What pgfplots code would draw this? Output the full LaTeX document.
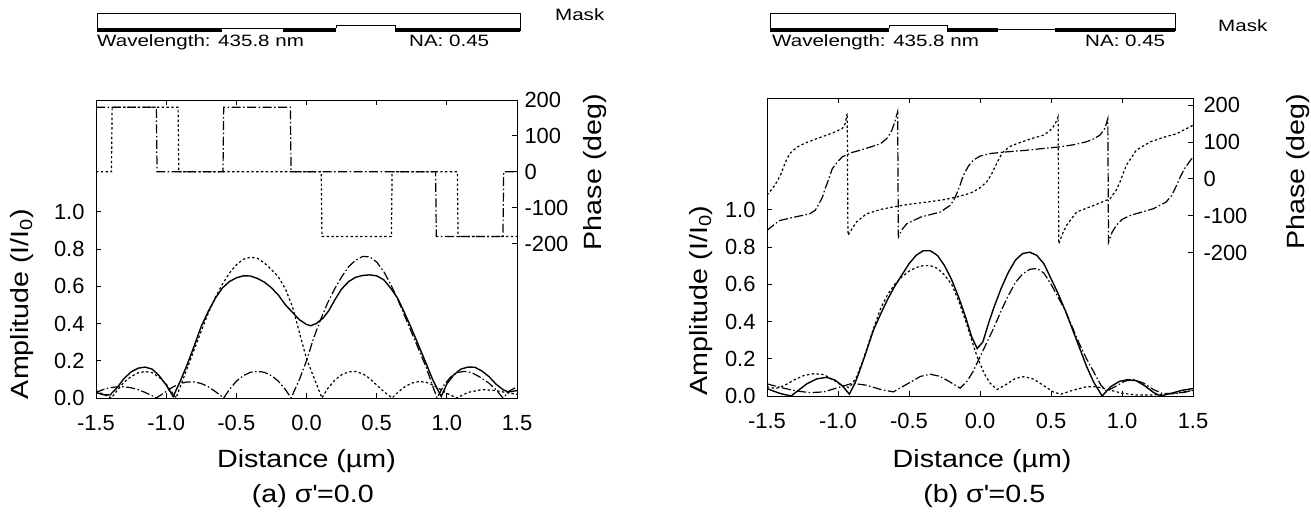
\documentclass[border=0pt]{standalone}
\usepackage{pgfplots}
\pgfplotsset{compat=1.18}
\usepackage{fontspec}
\setmainfont{Liberation Sans}
\newfontfamily\widefont{Liberation Sans}[FakeStretch=1.15]
\newfontfamily\headfont{Liberation Sans}[FakeStretch=1.25]
\newcommand\labfont{\widefont\fontsize{25}{28}\selectfont}

\tikzset{
  solidc/.style={line width=1.4bp},
  dotc/.style={line width=1.2bp, dash pattern=on 2.4bp off 2.4bp},
  dashdotc/.style={line width=1.2bp, dash pattern=on 9bp off 2.5bp on 1.5bp off 2.5bp},
}
\pgfplotsset{
  common/.style={scale only axis, height=298bp, xmin=-1.5, xmax=1.5,
    tick align=inside, major tick length=5bp,
    axis line style={line width=0.9bp}, tick style={line width=0.9bp, black},
    /pgf/number format/assume math mode=true,
    ticklabel style={font=\fontsize{22}{24}\selectfont},
  },
  ampax/.style={common, ymin=0, ymax=1.6, clip mode=individual,
    xtick={-1.5,-1.0,...,1.5}, ytick={0,0.2,...,1.0}, xtick pos=both, ytick pos=left,
    xticklabel style={/pgf/number format/fixed, /pgf/number format/fixed zerofill, /pgf/number format/precision=1, yshift=-14bp},
    yticklabel style={/pgf/number format/fixed, /pgf/number format/fixed zerofill, /pgf/number format/precision=1, xshift=-8bp},
    xlabel={Distance (µm)}, ylabel={Amplitude (I/I\textsubscript{0})},
  },
  phax/.style={common, axis y line*=right, axis x line=none,
    ytick={-200,-100,0,100,200}, ylabel={Phase (deg)},
  },
  maskax/.style={scale only axis, height=19bp, xmin=-1.5, xmax=1.5, ymin=0, ymax=1, hide axis, clip=false},
}

\begin{document}
\begin{tikzpicture}
\useasboundingbox (0bp,0bp) rectangle (1311bp,515bp);

% ---------- (a) sigma = 0.0 ----------
\begin{axis}[maskax, at={(96bp,483bp)}, anchor=south west, width=421bp]
  \addplot[line width=0.8bp] coordinates {(-1.493,0.05) (-1.493,1) (1.521,1) (1.521,0.05)};
  \addplot[fill=black, draw=none] coordinates {(-1.493,0) (-0.602,0) (-0.602,0.21) (-1.493,0.21)};
  \addplot[fill=black, draw=none] coordinates {(-0.167,0) (0.210,0) (0.210,0.21) (-0.167,0.21)};
  \addplot[fill=black, draw=none] coordinates {(0.631,0) (1.521,0) (1.521,0.21) (0.631,0.21)};
  \addplot[line width=0.7bp] coordinates {(-0.602,0.21) (-0.167,0.21)};
  \addplot[line width=0.7bp] coordinates {(0.210,0.21) (0.210,0.37) (0.631,0.37) (0.631,0.21)};
\end{axis}

\begin{axis}[ampax, at={(96bp,117bp)}, anchor=south west, width=421bp,
  every axis y label/.style={at={(axis description cs:-0.176,0.315)}, rotate=90, anchor=center, font=\labfont},
  every axis x label/.style={at={(axis description cs:0.5,-0.211)}, anchor=center, font=\labfont}]
  % total amplitude
  \addplot[solidc] coordinates {
    (-1.50,0.030) (-1.45,0.018) (-1.40,0.016) (-1.35,0.055) (-1.30,0.105) (-1.25,0.140)
    (-1.20,0.160) (-1.15,0.166) (-1.10,0.155) (-1.05,0.120) (-1.00,0.070) (-0.95,0.008)
    (-0.90,0.090) (-0.85,0.180) (-0.80,0.280) (-0.75,0.385) (-0.70,0.465) (-0.65,0.535)
    (-0.60,0.590) (-0.55,0.625) (-0.50,0.645) (-0.45,0.656) (-0.40,0.655) (-0.35,0.642)
    (-0.30,0.622) (-0.25,0.592) (-0.20,0.552) (-0.15,0.500) (-0.10,0.460) (-0.05,0.420)
    (0.00,0.395) (0.03,0.388) (0.07,0.400) (0.12,0.430) (0.16,0.470) (0.20,0.525)
    (0.25,0.585) (0.30,0.625) (0.35,0.648) (0.40,0.658) (0.45,0.661) (0.50,0.656)
    (0.55,0.635) (0.60,0.590) (0.65,0.535) (0.70,0.455) (0.75,0.370) (0.80,0.280)
    (0.85,0.190) (0.90,0.097) (0.96,0.008) (1.00,0.075) (1.05,0.125) (1.10,0.155)
    (1.15,0.166) (1.20,0.165) (1.25,0.145) (1.30,0.115) (1.35,0.075) (1.40,0.045)
    (1.44,0.032) (1.50,0.040)};
  % left aperture
  \addplot[dotc] coordinates {
    (-1.50,0.040) (-1.45,0.020) (-1.39,0.000) (-1.35,0.040) (-1.30,0.085) (-1.25,0.115)
    (-1.20,0.135) (-1.15,0.142) (-1.10,0.136) (-1.05,0.112) (-1.00,0.075) (-0.93,0.000)
    (-0.90,0.060) (-0.85,0.160) (-0.80,0.260) (-0.75,0.360) (-0.70,0.455) (-0.65,0.540)
    (-0.60,0.610) (-0.55,0.670) (-0.50,0.715) (-0.45,0.745) (-0.40,0.756) (-0.35,0.750)
    (-0.30,0.725) (-0.25,0.690) (-0.20,0.650) (-0.15,0.585) (-0.10,0.490) (-0.05,0.350)
    (0.00,0.210) (0.05,0.115) (0.11,0.000) (0.15,0.050) (0.20,0.095) (0.25,0.125)
    (0.30,0.140) (0.35,0.142) (0.40,0.130) (0.45,0.105) (0.50,0.070) (0.55,0.035)
    (0.61,0.000) (0.65,0.030) (0.70,0.060) (0.75,0.080) (0.80,0.088) (0.85,0.085)
    (0.90,0.070) (0.95,0.048) (1.00,0.025) (1.07,0.000) (1.15,0.030) (1.25,0.045)
    (1.35,0.040) (1.45,0.025) (1.50,0.020)};
  % right aperture
  \addplot[dashdotc] coordinates {
    (-1.50,0.030) (-1.45,0.045) (-1.40,0.055) (-1.35,0.060) (-1.30,0.060) (-1.25,0.055)
    (-1.20,0.045) (-1.15,0.030) (-1.10,0.012) (-1.07,0.000) (-1.00,0.035) (-0.95,0.060)
    (-0.90,0.078) (-0.85,0.086) (-0.80,0.086) (-0.75,0.078) (-0.70,0.060) (-0.65,0.035)
    (-0.59,0.000) (-0.55,0.045) (-0.50,0.090) (-0.45,0.120) (-0.40,0.138) (-0.35,0.143)
    (-0.30,0.138) (-0.25,0.120) (-0.20,0.090) (-0.15,0.045) (-0.11,0.000) (-0.05,0.100)
    (0.00,0.200) (0.05,0.320) (0.10,0.420) (0.15,0.510) (0.20,0.585) (0.25,0.650)
    (0.30,0.705) (0.35,0.740) (0.40,0.760) (0.45,0.758) (0.50,0.730) (0.55,0.680)
    (0.60,0.610) (0.65,0.530) (0.70,0.440) (0.75,0.350) (0.80,0.260) (0.85,0.170)
    (0.93,0.000) (0.98,0.070) (1.03,0.115) (1.08,0.138) (1.13,0.143) (1.18,0.135)
    (1.23,0.115) (1.30,0.080) (1.35,0.045) (1.40,0.000) (1.45,0.040) (1.50,0.060)};
  \node[font=\labfont] at (axis description cs:0.515,-0.33) {(a) σ\textquotesingle=0.0};
\end{axis}

\begin{axis}[phax, at={(96bp,117bp)}, anchor=south west, width=421bp, ymin=-630, ymax=200,
  yticklabel style={xshift=4bp},
  every axis y label/.style={at={(axis description cs:1.185,0.758)}, rotate=90, anchor=center, font=\labfont}]
  \addplot[dotc] coordinates {
    (-1.50,0) (-1.39,0) (-1.385,180) (-0.915,180) (-0.91,0) (0.105,0) (0.11,-180)
    (0.605,-180) (0.61,0) (1.075,0) (1.08,-180) (1.50,-180)};
  \addplot[dashdotc] coordinates {
    (-1.50,180) (-1.07,180) (-1.065,0) (-0.595,0) (-0.59,180) (-0.115,180) (-0.11,0)
    (0.92,0) (0.925,-180) (1.40,-180) (1.405,0) (1.50,0)};
\end{axis}

% ---------- (b) sigma = 0.5 ----------
\begin{axis}[maskax, at={(767bp,483bp)}, anchor=south west, width=426bp]
  \addplot[line width=0.8bp] coordinates {(-1.479,0.05) (-1.479,1) (1.373,1) (1.373,0.05)};
  \addplot[fill=black, draw=none] coordinates {(-1.479,0) (-0.641,0) (-0.641,0.23) (-1.479,0.23)};
  \addplot[fill=black, draw=none] coordinates {(-0.232,0) (0.127,0) (0.127,0.23) (-0.232,0.23)};
  \addplot[fill=black, draw=none] coordinates {(0.528,0) (1.373,0) (1.373,0.23) (0.528,0.23)};
  \addplot[line width=0.7bp] coordinates {(-0.641,0.23) (-0.641,0.37) (-0.232,0.37) (-0.232,0.23)};
  \addplot[line width=0.7bp] coordinates {(0.127,0.16) (0.528,0.16)};
\end{axis}

\begin{axis}[ampax, at={(767bp,119bp)}, anchor=south west, width=426bp,
  every axis y label/.style={at={(axis description cs:-0.155,0.32)}, rotate=90, anchor=center, font=\labfont},
  every axis x label/.style={at={(axis description cs:0.505,-0.218)}, anchor=center, font=\labfont}]
  \addplot[solidc] coordinates {
    (-1.50,0.040) (-1.45,0.025) (-1.40,0.012) (-1.33,0.000) (-1.28,0.030) (-1.22,0.065)
    (-1.15,0.092) (-1.08,0.100) (-1.02,0.085) (-0.97,0.055) (-0.92,0.010) (-0.88,0.070)
    (-0.85,0.130) (-0.80,0.240) (-0.75,0.355) (-0.70,0.440) (-0.65,0.520) (-0.60,0.590)
    (-0.55,0.650) (-0.50,0.710) (-0.45,0.755) (-0.40,0.780) (-0.35,0.780) (-0.30,0.755)
    (-0.25,0.700) (-0.20,0.625) (-0.15,0.530) (-0.10,0.420) (-0.06,0.320) (-0.02,0.255)
    (0.02,0.290) (0.06,0.390) (0.10,0.480) (0.15,0.580) (0.20,0.665) (0.25,0.730)
    (0.30,0.765) (0.35,0.772) (0.40,0.755) (0.45,0.710) (0.50,0.630) (0.55,0.550)
    (0.60,0.460) (0.65,0.360) (0.70,0.260) (0.75,0.160) (0.80,0.075) (0.86,0.000)
    (0.92,0.050) (0.98,0.078) (1.04,0.088) (1.10,0.082) (1.16,0.055) (1.22,0.020)
    (1.27,0.000) (1.35,0.015) (1.42,0.030) (1.50,0.040)};
  \addplot[dotc] coordinates {
    (-1.50,0.050) (-1.44,0.040) (-1.38,0.055) (-1.31,0.086) (-1.24,0.110) (-1.17,0.120)
    (-1.10,0.115) (-1.03,0.085) (-0.97,0.055) (-0.92,0.045) (-0.87,0.100) (-0.82,0.200)
    (-0.76,0.340) (-0.70,0.470) (-0.65,0.545) (-0.60,0.600) (-0.55,0.640) (-0.50,0.670)
    (-0.45,0.690) (-0.40,0.700) (-0.35,0.700) (-0.30,0.685) (-0.25,0.650) (-0.20,0.600)
    (-0.15,0.510) (-0.10,0.400) (-0.05,0.280) (-0.02,0.210) (0.03,0.120) (0.07,0.070)
    (0.12,0.035) (0.18,0.060) (0.25,0.095) (0.31,0.104) (0.38,0.090) (0.45,0.055)
    (0.52,0.020) (0.57,0.010) (0.65,0.030) (0.75,0.050) (0.82,0.050) (0.90,0.035)
    (1.00,0.015) (1.10,0.005) (1.20,0.005) (1.30,0.010) (1.40,0.018) (1.50,0.030)};
  \addplot[dashdotc] coordinates {
    (-1.50,0.065) (-1.40,0.045) (-1.30,0.028) (-1.20,0.018) (-1.10,0.022) (-1.00,0.045)
    (-0.90,0.068) (-0.80,0.058) (-0.70,0.035) (-0.61,0.022) (-0.50,0.070) (-0.42,0.105)
    (-0.35,0.117) (-0.28,0.105) (-0.20,0.070) (-0.14,0.042) (-0.09,0.080) (-0.05,0.130)
    (0.00,0.210) (0.05,0.290) (0.10,0.370) (0.15,0.460) (0.20,0.540) (0.25,0.610)
    (0.30,0.655) (0.35,0.680) (0.40,0.685) (0.45,0.660) (0.50,0.600) (0.55,0.530)
    (0.60,0.460) (0.65,0.370) (0.70,0.280) (0.75,0.200) (0.80,0.130) (0.85,0.060)
    (0.89,0.025) (0.95,0.050) (1.02,0.080) (1.08,0.088) (1.15,0.070) (1.22,0.035)
    (1.28,0.015) (1.36,0.012) (1.44,0.020) (1.50,0.030)};
  \node[font=\labfont] at (axis description cs:0.51,-0.336) {(b) σ\textquotesingle=0.5};
\end{axis}

\begin{axis}[phax, at={(767bp,119bp)}, anchor=south west, width=426bp, ymin=-590, ymax=220,
  yticklabel style={xshift=7bp},
  every axis y label/.style={at={(axis description cs:1.246,0.752)}, rotate=90, anchor=center, font=\labfont}]
  \addplot[dotc] coordinates {
    (-1.50,-44) (-1.46,-25) (-1.43,-8) (-1.40,15) (-1.37,46) (-1.34,69) (-1.29,86)
    (-1.24,96) (-1.16,108) (-1.08,119) (-1.02,128) (-0.97,137) (-0.95,150) (-0.935,178)
    (-0.93,-153) (-0.90,-135) (-0.87,-117) (-0.80,-95) (-0.70,-83) (-0.61,-76) (-0.50,-69)
    (-0.375,-63) (-0.25,-56) (-0.164,-49) (-0.08,-40) (-0.047,-35) (0.00,-24) (0.047,-8)
    (0.08,12) (0.106,33) (0.135,56) (0.164,74) (0.21,88) (0.26,96) (0.35,108) (0.446,119)
    (0.49,130) (0.516,142) (0.54,158) (0.55,169) (0.555,-176) (0.58,-150) (0.61,-126)
    (0.68,-90) (0.80,-72) (0.915,-54) (0.96,-30) (0.986,-8) (1.03,37) (1.10,78) (1.20,101)
    (1.30,114) (1.385,123) (1.50,146)};
  \addplot[dashdotc] coordinates {
    (-1.50,-140) (-1.45,-124) (-1.41,-113) (-1.31,-104) (-1.20,-95) (-1.16,-85) (-1.14,-72)
    (-1.11,-50) (-1.09,-26) (-1.065,0) (-1.04,28) (-1.00,48) (-0.97,60) (-0.90,72)
    (-0.845,78) (-0.77,87) (-0.70,96) (-0.65,112) (-0.62,133) (-0.60,155) (-0.58,183)
    (-0.575,-158) (-0.55,-138) (-0.516,-122) (-0.42,-104) (-0.28,-90) (-0.21,-72)
    (-0.185,-58) (-0.164,-40) (-0.14,-16) (-0.117,10) (-0.08,36) (-0.047,51) (0.00,62)
    (0.07,69) (0.20,74) (0.33,78) (0.45,83) (0.56,87) (0.66,93) (0.75,101) (0.80,109)
    (0.845,119) (0.88,138) (0.90,164) (0.905,-172) (0.93,-145) (0.96,-126) (1.00,-110)
    (1.06,-99) (1.14,-90) (1.22,-81) (1.31,-63) (1.35,-45) (1.385,-17) (1.41,5) (1.44,28)
    (1.50,60)};
\end{axis}

% ---------- header texts ----------
\begin{scope}[every node/.style={font=\headfont\fontsize{16.5}{19}\selectfont, inner sep=0pt}]
  \node[anchor=base west] at (555bp,494bp) {Mask};
  \node[anchor=base west] at (97bp,468bp) {Wavelength: 435.8 nm};
  \node[anchor=base west] at (409bp,468bp) {NA: 0.45};
  \node[anchor=base west] at (1218bp,483bp) {Mask};
  \node[anchor=base west] at (772bp,468bp) {Wavelength: 435.8 nm};
  \node[anchor=base west] at (1085bp,468bp) {NA: 0.45};
\end{scope}
\end{tikzpicture}
\end{document}
